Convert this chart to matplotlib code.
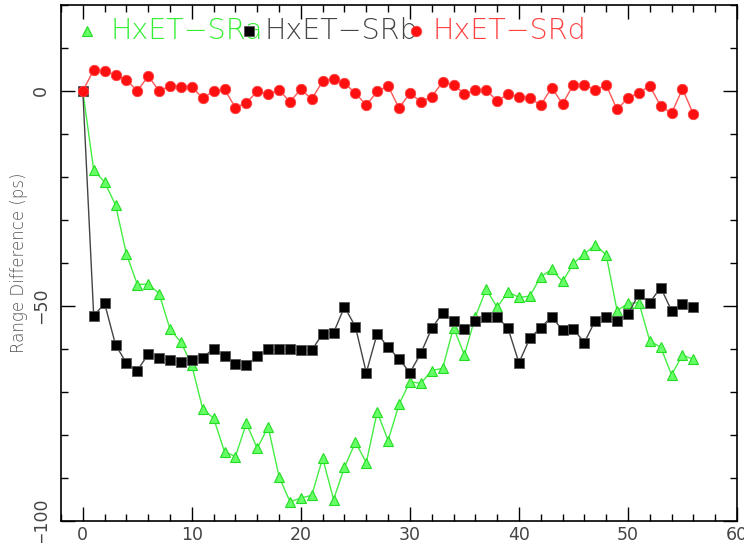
import numpy as np
import matplotlib
matplotlib.use("Agg")
import matplotlib.pyplot as plt
from matplotlib.ticker import MultipleLocator

x_vals = list(range(57))

sra = [0, -18.4, -21.2, -26.5, -37.9, -45.0, -44.9, -47.1, -55.4, -58.4,
       -63.8, -74.0, -76.1, -83.9, -85.0, -77.3, -83.1, -78.1, -89.7, -95.5,
       -94.7, -94.0, -85.4, -95.0, -87.5, -81.7, -86.4, -74.6, -81.3, -72.9,
       -67.6, -68.0, -65.0, -64.5, -55.0, -61.4, -52.5, -46.1, -50.3, -46.7,
       -48.0, -47.7, -43.2, -41.5, -44.3, -40.1, -37.9, -35.8, -38.1, -51.1,
       -49.4, -49.2, -58.1, -59.6, -66.0, -61.4, -62.4]

srb = [0, -52.3, -49.4, -59.0, -63.3, -65.0, -61.2, -62.2, -62.6, -63.0,
       -62.6, -62.0, -59.9, -61.6, -63.6, -63.8, -61.6, -60.1, -60.1, -60.1,
       -60.3, -60.3, -56.4, -56.2, -50.2, -54.8, -65.5, -56.4, -59.6, -62.3,
       -65.5, -61.0, -55.2, -51.6, -53.4, -55.4, -53.6, -52.5, -52.5, -55.2,
       -63.2, -57.5, -55.0, -52.5, -55.6, -55.4, -58.5, -53.4, -52.6, -53.4,
       -51.9, -47.2, -49.2, -45.7, -51.1, -49.5, -50.2]

srd = [0, 4.9, 4.7, 3.7, 2.6, 0.0, 3.5, 0.0, 1.2, 1.0,
       1.0, -1.7, 0.0, 0.4, -3.9, -2.7, -0.1, -0.7, 0.2, -2.5,
       0.4, -1.9, 2.3, 2.8, 1.8, -0.5, -3.3, -0.1, 1.2, -4.0,
       -0.5, -2.5, -1.3, 2.1, 1.5, -0.7, 0.2, 0.2, -2.3, -0.7,
       -1.3, -1.6, -3.3, 0.8, -3.0, 1.5, 1.5, 0.2, 1.4, -4.3,
       -1.6, -0.4, 1.2, -3.5, -5.2, 0.5, -5.4]

labels = ["HxET\u2212SRa", "HxET\u2212SRb", "HxET\u2212SRd"]
ylabel = "Range Difference (ps)"

W, H = 744, 543
fig = plt.figure(figsize=(W / 100, H / 100), dpi=100)
L, R, T, B = 61, 737, 5, 521
ax = fig.add_axes([L / W, 1 - B / H, (R - L) / W, (B - T) / H])

ax.plot(x_vals, sra, color="#44ee44", lw=1.0, marker="^", ms=7.5,
        mfc="#66ff66", mec="#22dd22", mew=0.8, zorder=3)
ax.plot(x_vals, srb, color="#444444", lw=1.0, marker="s", ms=7,
        mfc="black", mec="#555555", mew=0.6, zorder=4)
ax.plot(x_vals, srd, color="#ff5555", lw=1.0, marker="o", ms=7.5,
        mfc="#ff1010", mec="#ff4040", mew=0.6, zorder=5)

ax.set_xlim(-2, 60)
ax.set_ylim(-100, 20)
ax.xaxis.set_major_locator(MultipleLocator(10))
ax.xaxis.set_minor_locator(MultipleLocator(2))
ax.yaxis.set_major_locator(MultipleLocator(50))
ax.yaxis.set_minor_locator(MultipleLocator(10))
ax.tick_params(which="both", direction="in", top=True, right=True,
               colors="black", labelcolor="#444444", labelsize=12.5)
ax.tick_params(which="major", length=10, width=1.0)
ax.tick_params(which="minor", length=5, width=1.0)
ax.tick_params(axis="y", which="major", pad=8)
for lab in ax.get_yticklabels():
    lab.set_rotation(90)
    lab.set_va("center")
for s in ax.spines.values():
    s.set_linewidth(1.2)
ax.set_ylabel(ylabel, fontsize=12, color="#555555", labelpad=3,
              fontweight="light")

def fx(px):
    return (px - L) / (R - L)

def fy(py):
    return (B - py) / (B - T)

leg_y = fy(31)
ax.plot([fx(87)], [leg_y], transform=ax.transAxes, marker="^", ms=7.5,
        mfc="#66ff66", mec="#22dd22", mew=0.8, clip_on=False, zorder=6)
ax.text(fx(110), leg_y, labels[0], transform=ax.transAxes, color="#33ee33",
        fontsize=20.5, va="center", ha="left", fontweight="light")
ax.plot([fx(249)], [leg_y], transform=ax.transAxes, marker="s", ms=7,
        mfc="black", mec="#555555", mew=0.6, clip_on=False, zorder=6)
ax.text(fx(265), leg_y, labels[1], transform=ax.transAxes, color="#444444",
        fontsize=20.5, va="center", ha="left", fontweight="light")
ax.plot([fx(416)], [leg_y], transform=ax.transAxes, marker="o", ms=7.5,
        mfc="#ff1010", mec="#ff4040", mew=0.6, clip_on=False, zorder=6)
ax.text(fx(432), leg_y, labels[2], transform=ax.transAxes, color="#ff4040",
        fontsize=20.5, va="center", ha="left", fontweight="light")

fig.savefig("out.png", dpi=100)
